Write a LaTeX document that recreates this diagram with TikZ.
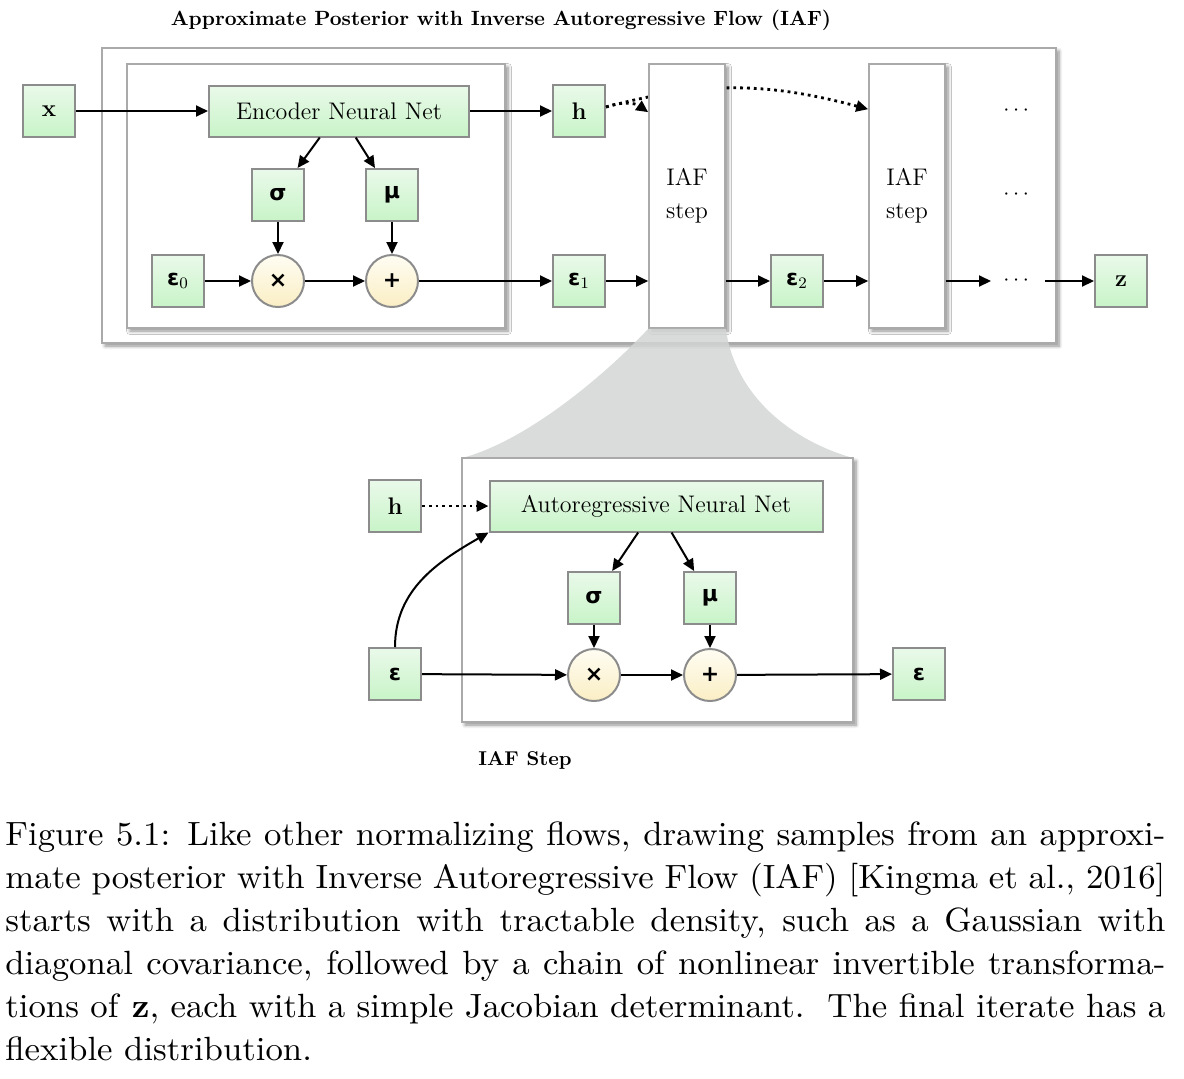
\documentclass[tikz,border=0pt]{standalone}
\usepackage{fontspec}
\usepackage{amsmath}
\usetikzlibrary{positioning}
\usetikzlibrary{arrows.meta}
\usetikzlibrary{calc}
\usetikzlibrary{graphs}
\usetikzlibrary{shadows.blur}
\newfontfamily\grkfont{DejaVu Sans}
\newfontfamily\capfont[FakeStretch=1.035, BoldFont=lmroman10-bold.otf]{lmroman10-regular.otf}
\definecolor{bTop}{HTML}{EAF9EA}
\definecolor{bBot}{HTML}{C8F4C8}
\definecolor{oTop}{HTML}{FFFDF3}
\definecolor{oBot}{HTML}{FAEEC4}
\definecolor{lGray}{HTML}{AAAAAA}
\definecolor{mGray}{HTML}{8C8C8C}
\definecolor{fGray}{HTML}{D3D5D5}
\newcommand{\gk}[1]{{\grkfont\bfseries\fontsize{11}{13}\selectfont #1}}
\newcommand{\capline}[1]{\makebox[580pt][s]{#1}\\}

\begin{document}
\begin{tikzpicture}[
    x=0.5pt, y=0.5pt,
    >={Triangle[length=6pt,width=5.5pt]},
    var/.style = {draw=mGray, line width=1pt, top color=bTop, bottom color=bBot,
      minimum size=26pt, inner sep=0pt, font=\fontsize{12}{14}\selectfont},
    net/.style = {var, minimum width=130pt, minimum height=25.5pt},
    op/.style = {circle, draw=mGray, line width=1pt, top color=oTop, bottom color=oBot,
      minimum size=26pt, inner sep=0pt, font=\fontsize{12}{14}\selectfont},
    frame/.style = {draw=lGray, line width=0.8pt, fill=white, inner sep=0pt,
      blur shadow={shadow xshift=1.5pt, shadow yshift=-1.5pt, shadow blur steps=6, shadow opacity=45}},
    stepbox/.style = {frame, minimum width=38pt, minimum height=132pt, align=center,
      font=\fontsize{12}{16.5}\selectfont},
    gap/.style = {inner sep=6pt, font=\fontsize{11}{13}\selectfont},
    flow/.style = {->, line width=1pt},
    dotflow/.style = {->, line width=1.4pt, dotted},
    ]

    \useasboundingbox (0,0) rectangle (1184,-1078);

    % frames
    \node[frame, minimum width=477pt, minimum height=147.5pt] (outer) at (579,-195.5) {};
    \node[frame, minimum width=189pt, minimum height=132pt] (inner) at (316,-196) {};

    \node[font=\bfseries\fontsize{10.3}{12}\selectfont] (title) at (501,-20)
      {Approximate Posterior with Inverse Autoregressive Flow (IAF)};

    % encoder part
    \node[var] (x) at (49,-111) {\textbf{x}};
    \node[net] (enc) at (339,-111) {Encoder Neural Net};
    \node[var] (h) at (579,-111) {\textbf{h}};
    \node[var] (sig) at (278,-195) {\gk{σ}};
    \node[var] (mu) at (392,-195) {\gk{μ}};
    \node[var] (eps0) at (178,-281) {\gk{ε}$_0$};
    \node[op] (mul) at (278,-281) {\gk{×}};
    \node[op] (add) at (392,-281) {\gk{+}};
    \node[var] (eps1) at (579,-281) {\gk{ε}$_1$};

    % flow steps
    \node[stepbox] (iaf2) at (907,-196) {IAF\\step};
    \draw[dotflow] ($(h.east)+(0,4)$) to[out=15, in=165] ($(iaf2.north west)+(0,-46)$);
    \node[stepbox] (iaf1) at (687,-196) {IAF\\step};
    \node[var] (eps2) at (797,-281) {\gk{ε}$_2$};
    \node[gap] (dA) at (1018,-111) {\raisebox{-1.5pt}{$\cdots$}};
    \node[gap] (dB) at (1018,-195) {\raisebox{-1.5pt}{$\cdots$}};
    \node[gap] (dC) at (1018,-281) {\raisebox{-1.5pt}{$\cdots$}};
    \node[var] (z) at (1121,-281) {\textbf{z}};

    % zoom funnel
    \coordinate (dTL) at (462,-458);
    \coordinate (dTR) at (853,-458);
    \fill[fGray, opacity=0.85]
      (iaf1.south west) .. controls (610,-370) and (530,-440) .. (dTL)
      -- (dTR) .. controls (790,-440) and (735,-395) .. (iaf1.south east) -- cycle;

    % iaf step detail
    \node[frame, minimum width=195.5pt, minimum height=132pt] (detail) at (657.5,-590) {};
    \node[var] (h2) at (395,-506) {\textbf{h}};
    \node[net, minimum width=166.5pt] (arnn) at (656,-506) {Autoregressive Neural Net};
    \node[var] (sig2) at (594,-598) {\gk{σ}};
    \node[var] (mu2) at (710,-598) {\gk{μ}};
    \node[var] (epsin) at (395,-674) {\gk{ε}};
    \node[op] (mul2) at (594,-675) {\gk{×}};
    \node[op] (add2) at (710,-675) {\gk{+}};
    \node[var] (epsout) at (919,-674) {\gk{ε}};
    \node[font=\bfseries\fontsize{10}{12}\selectfont] (steplabel) at (525,-760) {IAF Step};

    \graph[edges={line width=1pt}] {
      % encoder
      (x) -> (enc) -> (h),
      (enc) -> (sig) -> (mul),
      (enc) -> (mu) -> (add),
      (eps0) -> (mul) -> (add) -> (eps1),

      % detail
      (arnn) -> (sig2) -> (mul2),
      (arnn) -> (mu2) -> (add2),
      (epsin) -> (mul2) -> (add2) -> (epsout),
    };

    % chain of steps
    \draw[flow] (eps1) -- (eps1 -| iaf1.west);
    \draw[flow] (iaf1.east |- eps2) -- (eps2);
    \draw[flow] (eps2) -- (eps2 -| iaf2.west);
    \draw[flow] (iaf2.east |- dC) -- (dC);
    \draw[flow] (dC) -- (z);

    \draw[dotflow] ($(h.east)+(0,4)$) to[out=20, in=145] ($(iaf1.north west)+(0,-49)$);
    \draw[dotflow] (h2) -- (arnn);
    \draw[flow] (epsin.north) to[out=90, in=210] (arnn.south west);

    \node[anchor=north west, text width=580pt, inner sep=0pt, align=justify,
      font=\capfont\fontsize{16.8}{21.5}\selectfont] (caption) at (5,-821) {%
      \capline{Figure 5.1: Like other normalizing flows, drawing samples from an approxi-}
      \capline{mate posterior with Inverse Autoregressive Flow (IAF) [Kingma et al., 2016]}
      \capline{starts with a distribution with tractable density, such as a Gaussian with}
      \capline{diagonal covariance, followed by a chain of nonlinear invertible transforma-}
      \capline{tions of \textbf{z}, each with a simple Jacobian determinant.\ \ The final iterate has a}
      flexible distribution.};

\end{tikzpicture}
\end{document}
